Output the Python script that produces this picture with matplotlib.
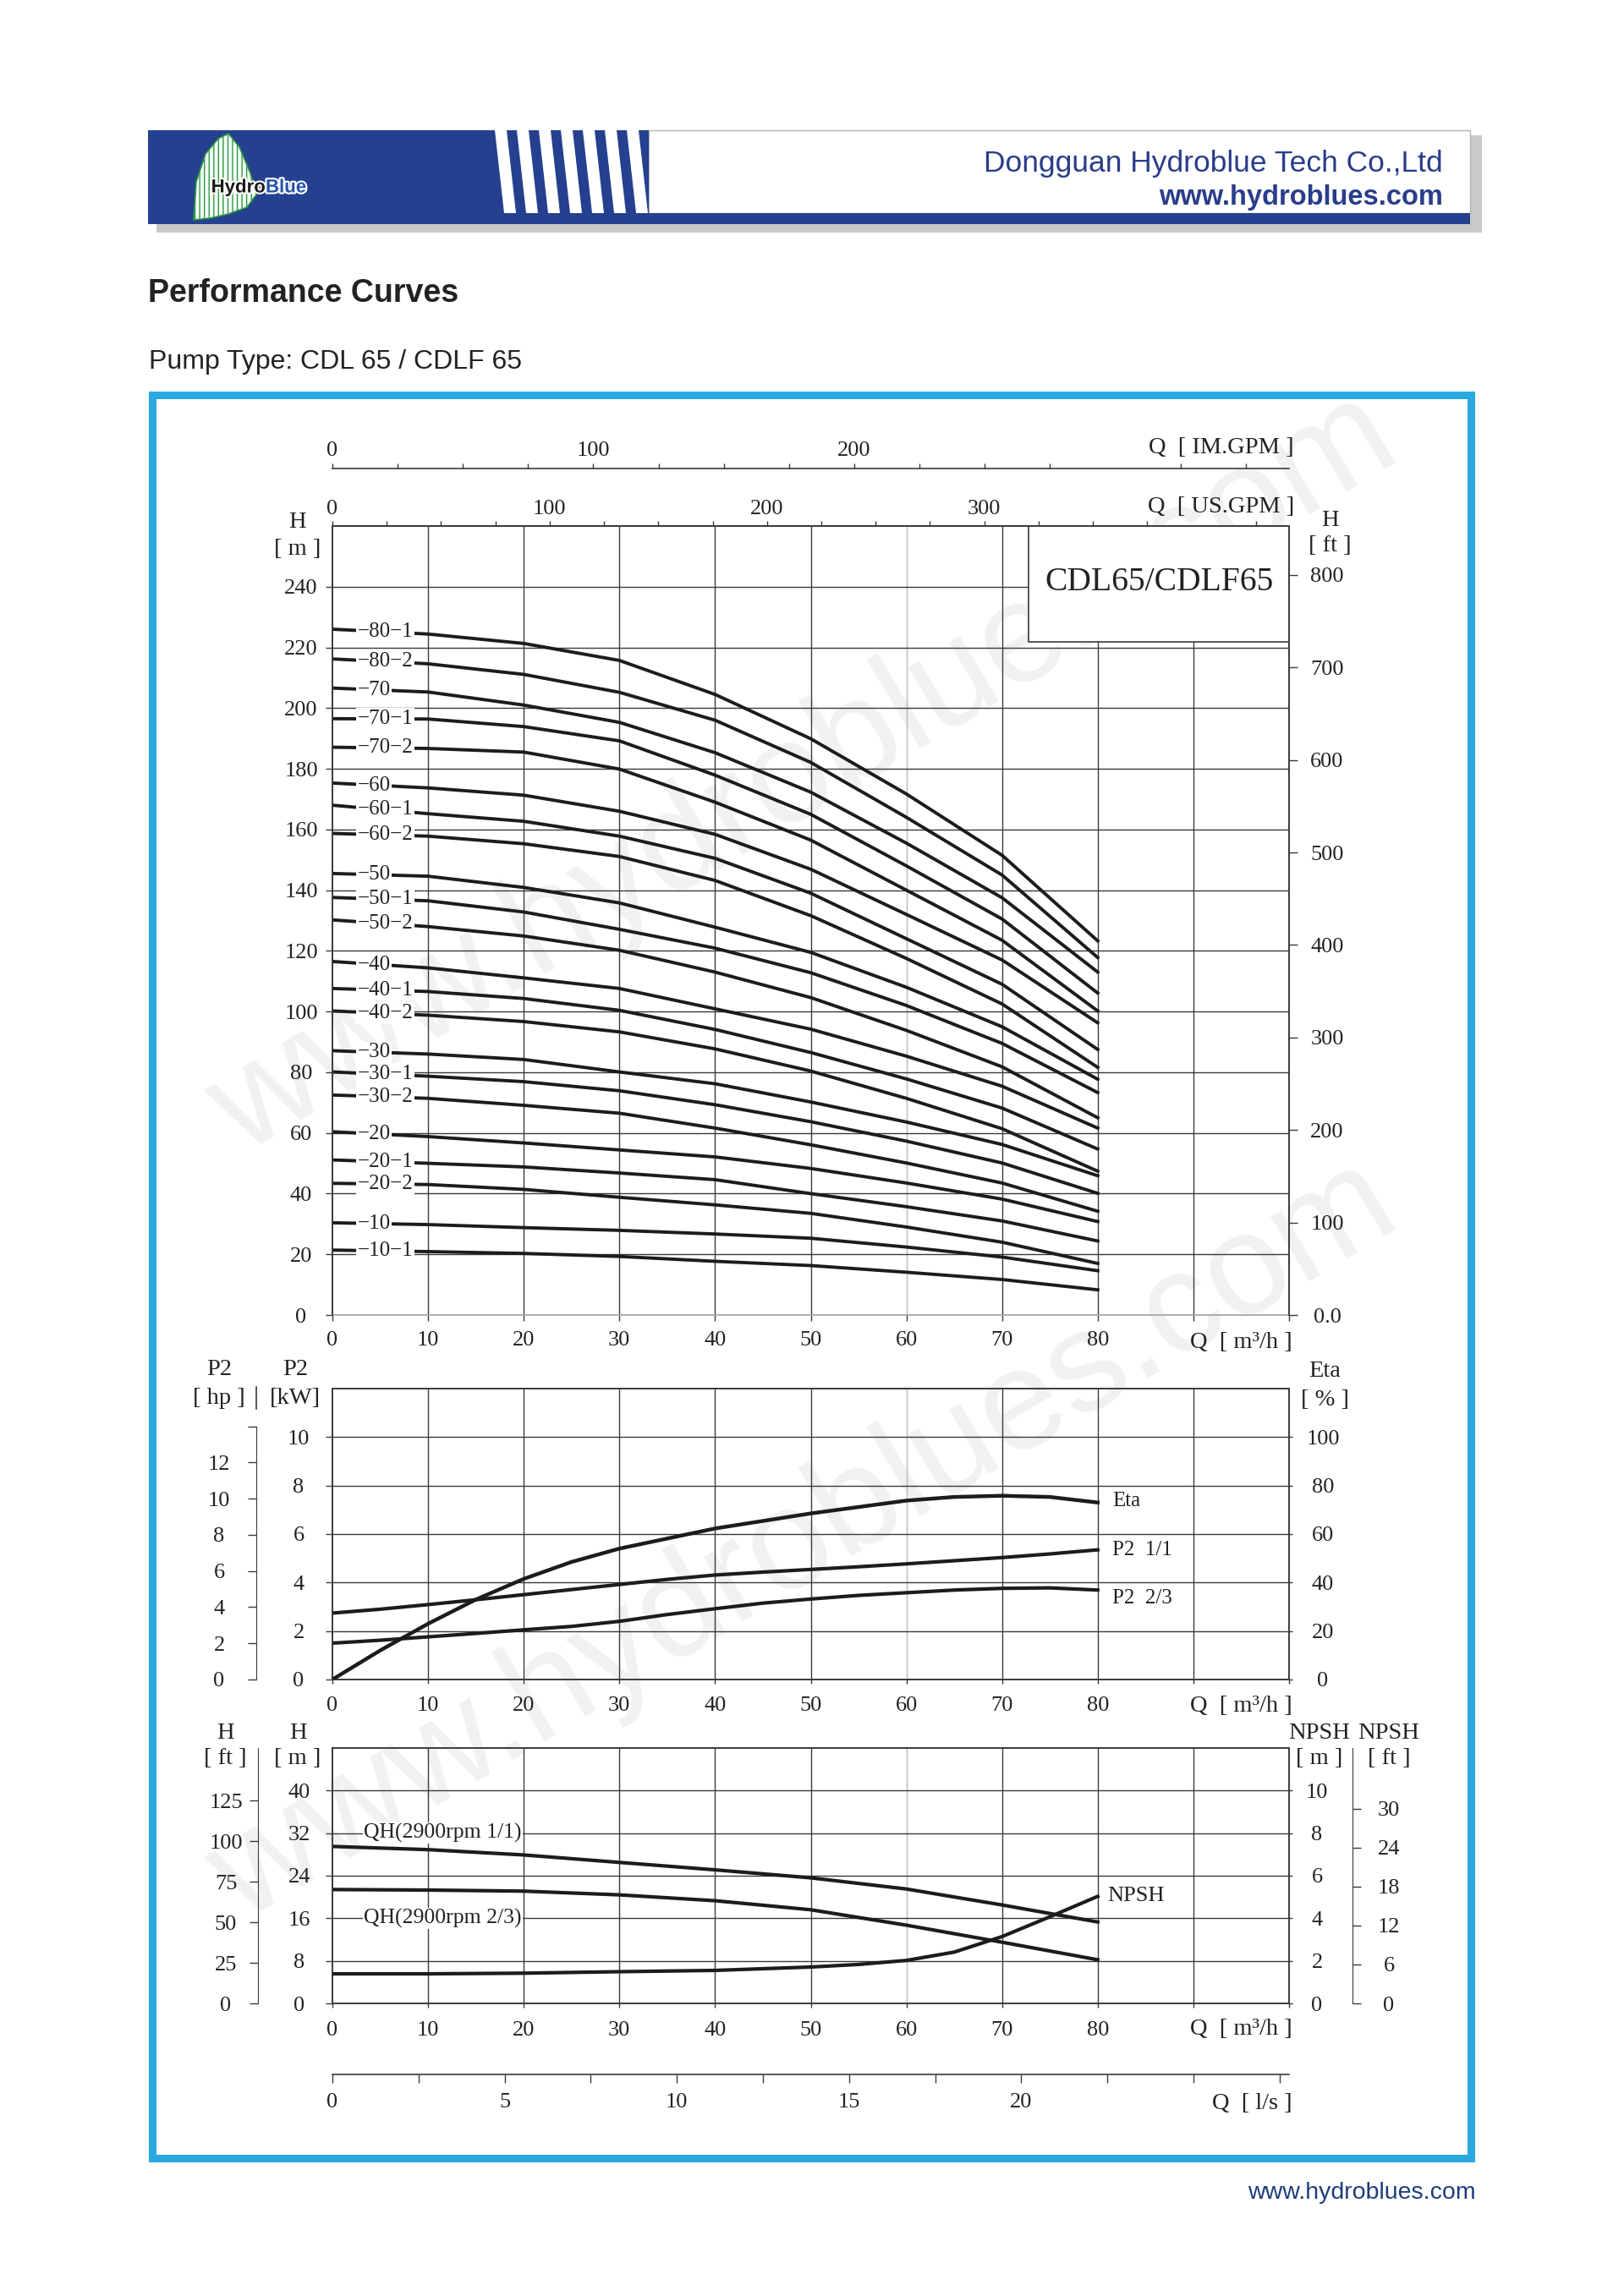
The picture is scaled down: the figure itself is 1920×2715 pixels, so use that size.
import numpy as np
import matplotlib
matplotlib.use("Agg")
from matplotlib import pyplot as plt
from matplotlib.patches import Rectangle, Polygon
from matplotlib.ticker import FixedLocator
import matplotlib.patheffects as pe

plt.rcParams['font.family'] = ['Liberation Serif', 'DejaVu Serif']

W, H = 1920, 2715

# ---------------- data ----------------
# Q-H curves of the stage variants (top chart), read every 10 m3/h
q_top = [0, 10, 20, 30, 40, 50, 60, 70, 80]
stage_labels = ["\u221280\u22121", "\u221280\u22122", "\u221270", "\u221270\u22121", "\u221270\u22122",
                "\u221260", "\u221260\u22121", "\u221260\u22122", "\u221250", "\u221250\u22121", "\u221250\u22122",
                "\u221240", "\u221240\u22121", "\u221240\u22122", "\u221230", "\u221230\u22121", "\u221230\u22122",
                "\u221220", "\u221220\u22121", "\u221220\u22122", "\u221210", "\u221210\u22121"]
heads = [
    [226.0, 224.4, 221.3, 215.7, 204.5, 189.9, 171.7, 151.5, 123.3],
    [216.2, 214.6, 211.1, 205.2, 196.0, 182.1, 164.0, 145.0, 117.8],
    [206.6, 205.3, 201.0, 195.3, 185.3, 172.3, 155.5, 137.5, 113.0],
    [196.5, 196.4, 193.9, 189.2, 177.9, 165.0, 148.0, 130.5, 106.1],
    [187.1, 186.7, 185.5, 179.9, 169.0, 156.5, 140.0, 123.5, 100.2],
    [175.3, 173.7, 171.3, 166.0, 158.4, 146.9, 132.0, 117.0, 96.3],
    [168.0, 165.2, 162.7, 157.8, 150.5, 139.0, 124.0, 109.0, 87.5],
    [158.7, 157.8, 155.3, 151.1, 143.2, 131.6, 117.5, 102.5, 81.6],
    [145.5, 144.6, 140.9, 135.8, 127.8, 119.5, 108.0, 95.0, 77.7],
    [137.6, 136.5, 132.8, 127.1, 120.9, 112.8, 102.0, 89.5, 73.3],
    [130.2, 128.0, 124.9, 120.2, 113.0, 104.6, 93.8, 81.8, 65.0],
    [116.5, 114.4, 111.1, 107.6, 100.9, 94.2, 85.3, 75.4, 61.6],
    [107.6, 106.6, 104.3, 100.4, 94.1, 86.5, 77.8, 68.2, 54.7],
    [100.2, 98.8, 96.7, 93.3, 87.7, 80.4, 71.4, 61.4, 47.4],
    [87.1, 86.0, 84.2, 80.1, 76.2, 70.2, 63.6, 56.2, 45.9],
    [80.1, 78.7, 76.9, 73.9, 69.3, 63.7, 57.3, 50.1, 40.1],
    [72.5, 71.4, 69.1, 66.5, 61.6, 56.1, 50.1, 43.5, 34.2],
    [60.4, 58.8, 56.7, 54.4, 52.1, 48.3, 43.5, 38.2, 30.8],
    [51.1, 50.0, 48.8, 46.8, 44.6, 40.0, 35.7, 31.0, 24.4],
    [43.4, 43.0, 41.4, 38.8, 36.3, 33.5, 29.0, 24.0, 17.0],
    [30.4, 29.8, 28.8, 27.9, 26.7, 25.3, 22.4, 19.1, 14.6],
    [21.4, 20.9, 20.3, 19.3, 17.7, 16.3, 14.1, 11.7, 8.3],
]

# power / efficiency (middle chart)
q_eta = [0, 5, 10, 15, 20, 25, 30, 40, 50, 60, 65, 70, 75, 80]
eta = [0, 12, 23, 33, 41.5, 48.5, 54, 62.3, 68.5, 73.8, 75.3, 75.8, 75.3, 73]
q_p2 = [0, 5, 10, 15, 20, 25, 30, 35, 40, 45, 50, 55, 60, 65, 70, 75, 80]
p2_full = [2.74, 2.9, 3.09, 3.29, 3.5, 3.71, 3.92, 4.13, 4.31, 4.43, 4.54, 4.65, 4.77, 4.9, 5.03, 5.18, 5.35]
p2_23 = [1.5, 1.62, 1.76, 1.9, 2.05, 2.19, 2.4, 2.68, 2.92, 3.15, 3.32, 3.47, 3.58, 3.69, 3.76, 3.78, 3.69]

# QH at 2900 rpm and NPSH (bottom chart)
q_qh = [0, 10, 20, 30, 40, 50, 60, 70, 80]
qh_full = [29.5, 28.9, 27.9, 26.5, 25.1, 23.6, 21.5, 18.5, 15.3]
qh_23 = [21.4, 21.3, 21.1, 20.4, 19.3, 17.6, 14.7, 11.5, 8.2]
q_npsh = [0, 10, 20, 30, 40, 50, 55, 60, 65, 70, 75, 80]
npsh = [1.39, 1.39, 1.42, 1.49, 1.55, 1.71, 1.83, 2.02, 2.41, 3.14, 4.07, 5.03]

# unit conversions
M3H_TO_USGPM = 4.4029
M3H_TO_IMGPM = 3.6662
M_TO_FT = 3.2808
KW_TO_HP = 1.341

GRID = '#3a3a3a'
LINE = '#1c1c1c'
TXT = '#222222'
BLUE = '#24408f'


def px(v):
    # pixels -> points (dpi 100)
    return v * 0.72


def rect(x0, y0, x1, y1):
    return [x0 / W, 1 - y1 / H, (x1 - x0) / W, (y1 - y0) / H]


fig = plt.figure(figsize=(W / 100, H / 100), dpi=100)
bg = fig.add_axes([0, 0, 1, 1])
bg.set_xlim(0, W)
bg.set_ylim(H, 0)
bg.axis('off')

# ---------------- page header ----------------
bg.add_patch(Rectangle((185, 160), 1567, 115, color='#c9c9c9', lw=0))
bg.add_patch(Rectangle((767, 154), 971, 98, facecolor='white', edgecolor='#b5b5b5', lw=1))
bg.add_patch(Rectangle((175, 154), 592, 111, color=BLUE, lw=0))
bg.add_patch(Rectangle((175, 252), 1563, 13, color=BLUE, lw=0))
for i in range(7):
    x0 = 585 + i * 26
    bg.add_patch(Polygon([(x0, 154), (x0 + 14, 154), (x0 + 25, 252), (x0 + 11, 252)],
                         color='white', lw=0))
leaf = Polygon([(229, 260), (232, 215), (243, 182), (258, 164), (270, 158), (283, 174),
                (296, 205), (303, 230), (292, 245), (270, 253), (248, 258)],
               facecolor='#f6fbf6', edgecolor='#2f9a46', hatch='|||', lw=1.2)
bg.add_patch(leaf)
stroke = [pe.withStroke(linewidth=3, foreground='white')]
bg.text(314, 222, "Hydro", ha='right', va='center', fontsize=16, fontweight='bold',
        color='#1a1a1a', family='Liberation Sans', path_effects=stroke)
bg.text(314, 222, "Blue", ha='left', va='center', fontsize=16, fontweight='bold',
        color='#2552a8', family='Liberation Sans', path_effects=stroke)
bg.text(1706, 203, "Dongguan Hydroblue Tech Co.,Ltd", ha='right', va='baseline',
        fontsize=25.5, color='#2a3d8a', family='Liberation Sans')
bg.text(1706, 242, "www.hydroblues.com", ha='right', va='baseline',
        fontsize=23.5, fontweight='bold', color='#2a3d8a', family='Liberation Sans')

bg.text(175, 357, "Performance Curves", ha='left', va='baseline', fontsize=27,
        fontweight='bold', color=TXT, family='Liberation Sans')
bg.text(176, 436, "Pump Type: CDL 65 / CDLF 65", ha='left', va='baseline', fontsize=23,
        color=TXT, family='Liberation Sans')

bg.add_patch(Rectangle((180, 467), 1559, 2085, facecolor='none', edgecolor='#2aa9e0', lw=px(9)))
bg.text(1745, 2600, "www.hydroblues.com", ha='right', va='baseline', fontsize=20.5,
        color='#1e3d7b', family='Liberation Sans')

# watermark
for cy in (916, 1823):
    bg.text(951, cy, "www.hydroblues.com", ha='center', va='center', fontsize=122,
            rotation=31, color='#f1f1f1', family='Liberation Sans')


def style_spines(a, color=GRID, lw=1.2):
    for s in a.spines.values():
        s.set_color(color)
        s.set_linewidth(lw)


def grid_lines(a, ys):
    for q in range(10, 100, 10):
        a.axvline(q, color='#b8b8b8' if q == 60 else GRID, lw=1.0, zorder=1)
    for y in ys:
        a.axhline(y, color=GRID, lw=1.0, zorder=1)


xt_labels = [str(v) for v in range(0, 81, 10)] + ['', '']

# ---------------- top chart: H(Q) ----------------
ax = fig.add_axes(rect(393, 622, 1524, 1555))
ax.set_facecolor('none')
ax.set_xlim(0, 100)
ax.set_ylim(0, 260)
grid_lines(ax, range(20, 241, 20))
style_spines(ax)
ax.spines['bottom'].set_color('#a0a0a0')

for lab, hs in zip(stage_labels, heads):
    ax.plot(q_top, hs, color=LINE, lw=2.8, zorder=4, solid_joinstyle='round')
    ax.text(2.6, (hs[0] + hs[1]) / 2, lab, ha='left', va='center', fontsize=18,
            color=TXT, zorder=5, bbox=dict(facecolor='white', edgecolor='none', pad=1.2))

box = Rectangle((72.8, 221.7), 27.2, 38.3, facecolor='white', edgecolor=GRID, lw=1.2, zorder=3)
ax.add_patch(box)
ax.text(86.4, 241.5, "CDL65/CDLF65", ha='center', va='center', fontsize=28.5, color=TXT, zorder=6)

ax.set_xticks(range(0, 101, 10), xt_labels)
ax.set_yticks(range(0, 241, 20), [str(v) for v in range(0, 241, 20)], ha='center')
ax.tick_params(axis='x', direction='out', length=px(7), width=1, color=GRID, pad=px(12),
               labelsize=19, labelcolor=TXT)
ax.tick_params(axis='y', direction='out', length=px(8), width=1, color=GRID, pad=px(29),
               labelsize=19, labelcolor=TXT)

axr = ax.twinx()
axr.set_ylim(0, 260 * M_TO_FT)
ft_ticks = list(range(0, 801, 100))
axr.set_yticks(ft_ticks, ['0.0'] + [str(v) for v in ft_ticks[1:]], ha='center')
axr.tick_params(axis='y', direction='out', length=px(10), width=1, color=GRID, pad=px(35),
                labelsize=19, labelcolor=TXT)
style_spines(axr)
axr.spines['bottom'].set_visible(False)

sec_us = ax.secondary_xaxis('top', functions=(lambda q: q * M3H_TO_USGPM, lambda g: g / M3H_TO_USGPM))
sec_us.set_xticks([0, 100, 200, 300])
sec_us.xaxis.set_minor_locator(FixedLocator([g for g in range(25, 441, 25) if g % 100]))
sec_us.tick_params(which='both', direction='out', length=px(6), width=1, color=GRID,
                   pad=px(2.5), labelsize=19, labelcolor=TXT)
style_spines(sec_us)

sec_im = ax.secondary_xaxis(1 + 68 / 933, functions=(lambda q: q * M3H_TO_IMGPM, lambda g: g / M3H_TO_IMGPM))
sec_im.set_xticks([0, 100, 200])
sec_im.xaxis.set_minor_locator(FixedLocator([g for g in range(25, 366, 25) if g % 100]))
sec_im.tick_params(which='both', direction='out', length=px(6), width=1, color=GRID,
                   pad=px(4), labelsize=19, labelcolor=TXT)
style_spines(sec_im)

lab_kw = dict(fontsize=20.5, color=TXT, ha='center', va='center')
bg.text(1530, 600, "Q  [ US.GPM ]", **{**lab_kw, 'ha': 'right'})
bg.text(1530, 530, "Q  [ IM.GPM ]", **{**lab_kw, 'ha': 'right'})
bg.text(351, 617, "H", **lab_kw)
bg.text(352, 650, "[ m ]", **lab_kw)
bg.text(1572, 615, "H", **lab_kw)
bg.text(1572, 646, "[ ft ]", **lab_kw)
bg.text(1528, 1588, "Q  [ m\u00b3/h ]", **{**lab_kw, 'ha': 'right'})

# ---------------- middle chart: P2 / Eta ----------------
axm = fig.add_axes(rect(393, 1642, 1524, 1986))
axm.set_facecolor('none')
axm.set_xlim(0, 100)
axm.set_ylim(0, 12)
grid_lines(axm, range(2, 11, 2))
style_spines(axm)
axm.plot(q_p2, p2_full, color=LINE, lw=3.0, zorder=4)
axm.plot(q_p2, p2_23, color=LINE, lw=3.0, zorder=4)
axm.set_xticks(range(0, 101, 10), xt_labels)
axm.set_yticks(range(0, 11, 2), [str(v) for v in range(0, 11, 2)], ha='center')
axm.tick_params(axis='x', direction='out', length=px(5), width=1, color=GRID, pad=px(15),
                labelsize=19, labelcolor=TXT)
axm.tick_params(axis='y', direction='out', length=px(8), width=1, color=GRID, pad=px(32),
                labelsize=19, labelcolor=TXT)

axe = axm.twinx()
axe.set_ylim(0, 120)
axe.plot(q_eta, eta, color=LINE, lw=3.2, zorder=4)
axe.set_yticks(range(0, 101, 20), [str(v) for v in range(0, 101, 20)], ha='center')
axe.tick_params(axis='y', direction='out', length=px(4), width=1, color=GRID, pad=px(36),
                labelsize=19, labelcolor=TXT)
style_spines(axe)

axhp = axm.twinx()
axhp.set_ylim(0, 12 * KW_TO_HP)
axhp.spines['left'].set_position(('axes', -(393 - 303) / 1131))
axhp.spines['left'].set_visible(True)
axhp.spines['left'].set_bounds(0, 14)
for s in ('right', 'top', 'bottom'):
    axhp.spines[s].set_visible(False)
axhp.yaxis.set_ticks_position('left')
axhp.set_yticks(range(0, 15, 2), [str(v) for v in range(0, 13, 2)] + [''], ha='center')
axhp.tick_params(axis='y', direction='out', length=px(10), width=1, color=GRID, pad=px(34),
                 labelsize=19, labelcolor=TXT)
axhp.spines['left'].set_color(GRID)
bg.plot([303, 303], [1640, 1666], color=GRID, lw=1.2)

axm.text(81.5, 7.36, "Eta", ha='left', va='center', fontsize=18, color=TXT)
axm.text(81.5, 5.34, "P2  1/1", ha='left', va='center', fontsize=18, color=TXT)
axm.text(81.5, 3.35, "P2  2/3", ha='left', va='center', fontsize=18, color=TXT)

bg.text(259, 1619, "P2", **lab_kw)
bg.text(259, 1654, "[ hp ]", **lab_kw)
bg.text(349, 1619, "P2", **lab_kw)
bg.text(349, 1654, "[kW]", **lab_kw)
bg.text(1566, 1621, "Eta", **lab_kw)
bg.text(1566, 1655, "[ % ]", **lab_kw)
bg.text(1528, 2017, "Q  [ m\u00b3/h ]", **{**lab_kw, 'ha': 'right'})

# ---------------- bottom chart: QH / NPSH ----------------
axb = fig.add_axes(rect(393, 2067, 1524, 2369))
axb.set_facecolor('none')
axb.set_xlim(0, 100)
axb.set_ylim(0, 48)
grid_lines(axb, range(8, 41, 8))
style_spines(axb)
axb.plot(q_qh, qh_full, color=LINE, lw=3.0, zorder=4)
axb.plot(q_qh, qh_23, color=LINE, lw=3.0, zorder=4)
axb.set_xticks(range(0, 101, 10), xt_labels)
axb.set_yticks(range(0, 41, 8), [str(v) for v in range(0, 41, 8)], ha='center')
axb.tick_params(axis='x', direction='out', length=px(5), width=1, color=GRID, pad=px(16),
                labelsize=19, labelcolor=TXT)
axb.tick_params(axis='y', direction='out', length=px(8), width=1, color=GRID, pad=px(31),
                labelsize=19, labelcolor=TXT)
axb.text(3.3, 32, "QH(2900rpm 1/1)", ha='left', va='center', fontsize=18.5, color=TXT,
         zorder=5, bbox=dict(facecolor='white', edgecolor='none', pad=1))
axb.text(3.3, 16, "QH(2900rpm 2/3)", ha='left', va='center', fontsize=18.5, color=TXT,
         zorder=5, bbox=dict(facecolor='white', edgecolor='none', pad=1))
axb.text(81, 20.2, "NPSH", ha='left', va='center', fontsize=19, color=TXT)

axn = axb.twinx()
axn.set_ylim(0, 12)
axn.plot(q_npsh, npsh, color=LINE, lw=3.0, zorder=4)
axn.set_yticks(range(0, 11, 2), [str(v) for v in range(0, 11, 2)], ha='center')
axn.tick_params(axis='y', direction='out', length=px(4), width=1, color=GRID, pad=px(29),
                labelsize=19, labelcolor=TXT)
style_spines(axn)

axhf = axb.twinx()
axhf.set_ylim(0, 48 * M_TO_FT)
axhf.spines['left'].set_position(('axes', -(393 - 305) / 1131))
axhf.spines['left'].set_visible(True)
for s in ('right', 'top', 'bottom'):
    axhf.spines[s].set_visible(False)
axhf.yaxis.set_ticks_position('left')
axhf.set_yticks(range(0, 126, 25), [str(v) for v in range(0, 126, 25)], ha='center')
axhf.tick_params(axis='y', direction='out', length=px(10), width=1, color=GRID, pad=px(28),
                 labelsize=19, labelcolor=TXT)
axhf.spines['left'].set_color(GRID)

axnf = axb.twinx()
axnf.set_ylim(0, 12 * M_TO_FT)
axnf.spines['right'].set_position(('axes', 1 + (1599 - 1524) / 1131))
for s in ('left', 'top', 'bottom'):
    axnf.spines[s].set_visible(False)
axnf.set_yticks(range(0, 31, 6), [str(v) for v in range(0, 31, 6)], ha='center')
axnf.tick_params(axis='y', direction='out', length=px(10), width=1, color=GRID, pad=px(33),
                 labelsize=19, labelcolor=TXT)
axnf.spines['right'].set_color(GRID)

sec_ls = axb.secondary_xaxis(-(2453 - 2369) / 302, functions=(lambda q: q / 3.6, lambda l: l * 3.6))
sec_ls.set_xticks([0, 5, 10, 15, 20])
sec_ls.xaxis.set_minor_locator(FixedLocator([2.5, 7.5, 12.5, 17.5, 22.5, 25, 27.5]))
sec_ls.tick_params(which='both', direction='out', length=px(10), width=1, color=GRID,
                   pad=px(12), labelsize=19, labelcolor=TXT)
style_spines(sec_ls)

bg.text(266, 2050, "H", **lab_kw)
bg.text(266, 2079, "[ ft ]", **lab_kw)
bg.text(352, 2050, "H", **lab_kw)
bg.text(352, 2079, "[ m ]", **lab_kw)
bg.text(1560, 2049, "NPSH", **lab_kw)
bg.text(1560, 2079, "[ m ]", **lab_kw)
bg.text(1642, 2049, "NPSH", **lab_kw)
bg.text(1642, 2079, "[ ft ]", **lab_kw)
bg.text(1528, 2400, "Q  [ m\u00b3/h ]", **{**lab_kw, 'ha': 'right'})
bg.text(1528, 2487, "Q  [ l/s ]", **{**lab_kw, 'ha': 'right'})

fig.savefig("out.png", dpi=100)
plt.close(fig)
